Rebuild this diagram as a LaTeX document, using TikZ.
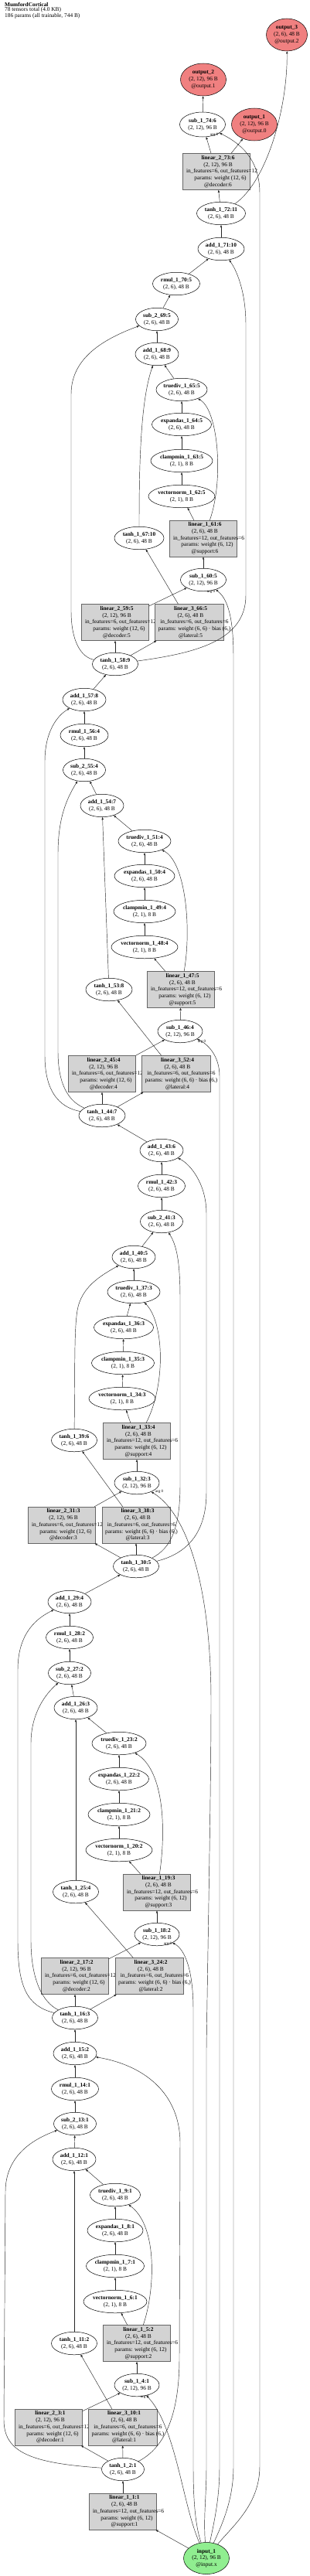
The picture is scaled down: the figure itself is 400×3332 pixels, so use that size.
\documentclass[tikz,border=0pt]{standalone}
\usepackage{fontspec}
\setmainfont{Liberation Serif}
\usetikzlibrary{shapes.geometric,arrows.meta}
\definecolor{outc}{HTML}{F08080}
\definecolor{inc}{HTML}{90EE90}
\definecolor{boxc}{HTML}{D3D3D3}
\newcommand\nf{\fontsize{7.35}{8.7}\selectfont}
\newcommand\shA{(2, 6), 48 B}
\newcommand\shB{(2, 12), 96 B}
\newcommand\shC{(2, 1), 8 B}
\tikzset{
 op/.style={ellipse, draw=black, line width=0.5pt, inner xsep=-8pt, inner ysep=0pt, minimum height=29.5pt, align=center, font=\nf},
 outn/.style={op, fill=outc, minimum height=42pt, minimum width=59pt},
 inn/.style={op, fill=inc, minimum height=41pt, minimum width=59pt},
 linbox/.style={rectangle, draw=black!60, line width=0.5pt, fill=boxc, minimum width=87pt, minimum height=47pt, inner sep=0pt},
 lintxt/.style={inner sep=0pt, align=center, font=\nf},
 edg/.style={draw=black!85, line width=0.45pt, -{Triangle[length=3.2pt,width=2.4pt]}},
 argl/.style={font=\fontsize{5}{5}\selectfont, inner sep=0pt},
}
\newcommand\op[5]{\node[op, minimum width=#3pt] (#1) at (#2) {\textbf{#4}\\#5};}
\newcommand\linA[4]{\node[linbox] (#1) at (#2) {};
 \node[lintxt] (#1t) at ([xshift=2pt]#1.center) {\textbf{#3}\\\shA\\\hspace*{10pt}in\_features=12, out\_features=6\\\hspace*{6pt}params: weight (6, 12)\\@support:#4};}
\newcommand\linB[4]{\node[linbox] (#1) at (#2) {};
 \node[lintxt] (#1t) at ([xshift=2pt]#1.center) {\textbf{#3}\\\shB\\\hspace*{10pt}in\_features=6, out\_features=12\\\hspace*{6pt}params: weight (12, 6)\\@decoder:#4};}
\newcommand\linC[4]{\node[linbox, minimum width=88.5pt] (#1) at (#2) {};
 \node[lintxt] (#1t) at ([xshift=2pt]#1.center) {\textbf{#3}\\\shA\\\hspace*{10pt}in\_features=6, out\_features=6\\\hspace*{10pt}params: weight (6, 6) · bias (6,)\\@lateral:#4};}
\begin{document}
\begin{tikzpicture}[x=1pt,y=-1pt]
\fill[white] (0,0) rectangle (400,3332);
\useasboundingbox (0,0) rectangle (400,3332);
\node[anchor=north west, inner sep=0pt, align=left, font=\fontsize{7.35}{6.4}\selectfont] (title) at (6,3) {\textbf{MumfordCortical}\\78 tensors total (4.0 KB)\\186 params (all trainable, 744 B)};
% nodes
\node[outn, minimum width=53pt] (out3) at (371,45) {\textbf{output\_3}\\\shA\\@output.2};
\node[outn] (out2) at (263,103) {\textbf{output\_2}\\\shB\\@output.1};
\node[outn] (out1) at (329,161) {\textbf{output\_1}\\\shB\\@output.0};
\node[op, minimum width=59pt, minimum height=32pt] (s174) at (262,161) {\textbf{sub\_1\_74:6}\\\shB};
\linB{l273}{280,222}{linear\_2\_73:6}{6}
\op{t172}{286,276}{63}{tanh\_1\_72:11}{\shA}
\op{a171}{286,322}{60}{add\_1\_71:10}{\shA}
\op{r170}{228,367}{61}{rmul\_1\_70:5}{\shA}
\op{s269}{203,413}{55}{sub\_2\_69:5}{\shA}
\op{a168}{203,458}{56}{add\_1\_68:9}{\shA}
\op{td65}{235,504}{66}{truediv\_1\_65:5}{\shA}
\op{ex64}{235,549}{77}{expandas\_1\_64:5}{\shA}
\op{cm63}{235,596}{80}{clampmin\_1\_63:5}{\shC}
\op{vn62}{235,642}{86}{vectornorm\_1\_62:5}{\shC}
\linA{l161}{263,696.5}{linear\_1\_61:6}{6}
\op{t167}{180,696}{64}{tanh\_1\_67:10}{\shA}
\op{s160}{263,750}{59}{sub\_1\_60:5}{\shB}
\linB{l259}{149,805}{linear\_2\_59:5}{5}
\linC{l366}{244.5,805}{linear\_3\_66:5}{5}
\op{t158}{149,859}{59}{tanh\_1\_58:9}{\shA}
\op{a157}{109,905}{56}{add\_1\_57:8}{\shA}
\op{r156}{109,951}{62}{rmul\_1\_56:4}{\shA}
\op{s255}{109,996}{55}{sub\_2\_55:4}{\shA}
\op{a154}{132,1042}{56}{add\_1\_54:7}{\shA}
\op{td51}{187,1088}{68}{truediv\_1\_51:4}{\shA}
\op{ex50}{187,1133}{78}{expandas\_1\_50:4}{\shA}
\op{cm49}{187,1179}{80}{clampmin\_1\_49:4}{\shC}
\op{vn48}{187,1225}{86}{vectornorm\_1\_48:4}{\shC}
\linA{l147}{234,1280}{linear\_1\_47:5}{5}
\op{t153}{141,1280}{60}{tanh\_1\_53:8}{\shA}
\op{s146}{233,1334}{58}{sub\_1\_46:4}{\shB}
\linB{l245}{132,1389}{linear\_2\_45:4}{4}
\linC{l352}{227.5,1389}{linear\_3\_52:4}{4}
\op{t144}{132,1443}{60}{tanh\_1\_44:7}{\shA}
\op{a143}{209,1488}{56}{add\_1\_43:6}{\shA}
\op{r142}{209,1534}{61}{rmul\_1\_42:3}{\shA}
\op{s241}{209,1580}{55}{sub\_2\_41:3}{\shA}
\op{a140}{173,1626}{56}{add\_1\_40:5}{\shA}
\op{td37}{173,1671}{68}{truediv\_1\_37:3}{\shA}
\op{ex36}{160,1717}{77}{expandas\_1\_36:3}{\shA}
\op{cm35}{159,1763}{81}{clampmin\_1\_35:3}{\shC}
\op{vn34}{158,1809}{86}{vectornorm\_1\_34:3}{\shC}
\linA{l133}{177,1864}{linear\_1\_33:4}{4}
\op{t139}{96,1863}{59}{tanh\_1\_39:6}{\shA}
\op{s132}{177,1918}{58}{sub\_1\_32:3}{\shB}
\linB{l231}{80,1972.5}{linear\_2\_31:3}{3}
\linC{l338}{176,1972.5}{linear\_3\_38:3}{3}
\op{t130}{176,2026}{59}{tanh\_1\_30:5}{\shA}
\op{a129}{90,2072}{56}{add\_1\_29:4}{\shA}
\op{r128}{90,2118}{61}{rmul\_1\_28:2}{\shA}
\op{s227}{90,2164}{55}{sub\_2\_27:2}{\shA}
\op{a126}{98,2209}{56}{add\_1\_26:3}{\shA}
\op{td23}{154,2255}{70}{truediv\_1\_23:2}{\shA}
\op{ex22}{154,2301}{77}{expandas\_1\_22:2}{\shA}
\op{cm21}{154,2347}{80}{clampmin\_1\_21:2}{\shC}
\op{vn20}{154,2393}{86}{vectornorm\_1\_20:2}{\shC}
\linA{l119}{203,2447.5}{linear\_1\_19:3}{3}
\op{t125}{98,2447}{59}{tanh\_1\_25:4}{\shA}
\op{s118}{203,2502}{58}{sub\_1\_18:2}{\shB}
\linB{l217}{97,2556}{linear\_2\_17:2}{2}
\linC{l324}{193,2556}{linear\_3\_24:2}{2}
\op{t116}{97,2610}{59}{tanh\_1\_16:3}{\shA}
\op{a115}{97,2656}{56}{add\_1\_15:2}{\shA}
\op{r114}{97,2702}{61}{rmul\_1\_14:1}{\shA}
\op{s213}{97,2747}{55}{sub\_2\_13:1}{\shA}
\op{a112}{96,2793}{56}{add\_1\_12:1}{\shA}
\op{td9}{149,2839}{65}{truediv\_1\_9:1}{\shA}
\op{ex8}{149,2885}{72}{expandas\_1\_8:1}{\shA}
\op{cm7}{149,2931}{75}{clampmin\_1\_7:1}{\shC}
\op{vn6}{149,2977}{82}{vectornorm\_1\_6:1}{\shC}
\linA{l15}{177,3031}{linear\_1\_5:2}{2}
\op{t111}{96,3031}{59}{tanh\_1\_11:2}{\shA}
\op{s14}{177,3085}{58}{sub\_1\_4:1}{\shB}
\linB{l23}{63,3139.5}{linear\_2\_3:1}{1}
\linC{l310}{158.5,3139.5}{linear\_3\_10:1}{1}
\op{t12}{159,3194}{55}{tanh\_1\_2:1}{\shA}
\linA{l11}{159,3248.5}{linear\_1\_1:1}{1}
\node[inn] (in1) at (267,3309) {\textbf{input\_1}\\\shB\\@input.x};
% arg labels
\node[argl] (g174) at (277,174) {arg 0};
\node[argl] (g160) at (273,765) {arg 0};
\node[argl] (g146) at (261,1347) {arg 0};
\node[argl] (g132) at (206,1929) {arg 0};
\node[argl] (g118) at (217,2514) {arg 0};
\node[argl] (g14) at (187,3100) {arg 0};
% ---- edges: iteration 1
\draw[edg] (in1) -- (l11);
\draw[edg] (l11) -- (t12);
\draw[edg] (t12) -- (l23);
\draw[edg] (t12) -- (l310);
\draw[edg] (t12) .. controls (40,3186) and (5,3172) .. (5,3130) -- (7,2835) .. controls (7,2790) and (40,2768) .. (s213);
\draw[edg] (t12) .. controls (215,3165) and (232,3120) .. (232,3050) -- (233,2770) .. controls (232,2710) and (190,2672) .. (a115);
\draw[edg] (l23) -- (s14);
\draw[edg] (in1) .. controls (236,3240) and (228,3140) .. (s14);
\draw[edg] (s14) -- (l15);
\draw[edg] (l15) -- (vn6);
\draw[edg] (l15) .. controls (200,2965) and (205,2880) .. (td9);
\draw[edg] (vn6) -- (cm7);
\draw[edg] (cm7) -- (ex8);
\draw[edg] (ex8) -- (td9);
\draw[edg] (l310) -- (t111);
\draw[edg] (t111) -- (a112);
\draw[edg] (td9) -- (a112);
\draw[edg] (a112) -- (s213);
\draw[edg] (s213) -- (r114);
\draw[edg] (r114) -- (a115);
\draw[edg] (a115) -- (t116);
% ---- iteration 2
\draw[edg] (t116) -- (l217);
\draw[edg] (t116) -- (l324);
\draw[edg] (t116) .. controls (55,2590) and (40,2560) .. (40,2510) -- (40,2255) .. controls (40,2215) and (60,2190) .. (s227);
\draw[edg] (t116) .. controls (35,2595) and (23,2570) .. (23,2510) -- (23,2160) .. controls (23,2110) and (50,2092) .. (a129);
\draw[edg] (l217) -- (s118);
\draw[edg] (in1) .. controls (252,3265) and (250,3230) .. (250,3190) -- (250,2600) .. controls (250,2550) and (240,2522) .. (s118);
\draw[edg] (s118) -- (l119);
\draw[edg] (l119) -- (vn20);
\draw[edg] (l119) .. controls (215,2365) and (212,2290) .. (td23);
\draw[edg] (vn20) -- (cm21);
\draw[edg] (cm21) -- (ex22);
\draw[edg] (ex22) -- (td23);
\draw[edg] (l324) -- (t125);
\draw[edg] (t125) -- (a126);
\draw[edg] (td23) -- (a126);
\draw[edg] (a126) -- (s227);
\draw[edg] (s227) -- (r128);
\draw[edg] (r128) -- (a129);
\draw[edg] (a129) -- (t130);
% ---- iteration 3
\draw[edg] (t130) -- (l231);
\draw[edg] (t130) -- (l338);
\draw[edg] (t130) .. controls (222,2002) and (233,1975) .. (233,1920) -- (233,1680) .. controls (233,1630) and (228,1610) .. (s241);
\draw[edg] (t130) .. controls (240,2010) and (267,1985) .. (267,1930) -- (267,1570) .. controls (267,1530) and (245,1505) .. (a143);
\draw[edg] (l231) -- (s132);
\draw[edg] (in1) .. controls (263,3255) and (267,3230) .. (267,3190) -- (267,2650) .. controls (270,2450) and (273,2300) .. (273,2200) .. controls (273,2060) and (245,1960) .. (s132);
\draw[edg] (s132) -- (l133);
\draw[edg] (l133) -- (vn34);
\draw[edg] (l133) .. controls (215,1790) and (212,1710) .. (td37);
\draw[edg] (vn34) -- (cm35);
\draw[edg] (cm35) -- (ex36);
\draw[edg] (ex36) -- (td37);
\draw[edg] (l338) -- (t139);
\draw[edg] (t139) .. controls (97,1760) and (96,1720) .. (100,1695) .. controls (105,1665) and (130,1650) .. (a140);
\draw[edg] (td37) -- (a140);
\draw[edg] (a140) -- (s241);
\draw[edg] (s241) -- (r142);
\draw[edg] (r142) -- (a143);
\draw[edg] (a143) -- (t144);
% ---- iteration 4
\draw[edg] (t144) -- (l245);
\draw[edg] (t144) -- (l352);
\draw[edg] (t144) .. controls (90,1425) and (75,1405) .. (75,1360) -- (75,1105) .. controls (75,1060) and (85,1035) .. (s255);
\draw[edg] (t144) .. controls (75,1432) and (58,1410) .. (58,1365) -- (58,985) .. controls (58,945) and (75,925) .. (a157);
\draw[edg] (l245) -- (s146);
\draw[edg] (in1) .. controls (278,3258) and (284,3230) .. (284,3190) -- (284,1392) .. controls (284,1365) and (268,1350) .. (s146);
\draw[edg] (s146) -- (l147);
\draw[edg] (l147) -- (vn48);
\draw[edg] (l147) .. controls (248,1200) and (240,1115) .. (td51);
\draw[edg] (vn48) -- (cm49);
\draw[edg] (cm49) -- (ex50);
\draw[edg] (ex50) -- (td51);
\draw[edg] (l352) -- (t153);
\draw[edg] (t153) -- (a154);
\draw[edg] (td51) -- (a154);
\draw[edg] (a154) -- (s255);
\draw[edg] (s255) -- (r156);
\draw[edg] (r156) -- (a157);
\draw[edg] (a157) -- (t158);
% ---- iteration 5
\draw[edg] (t158) -- (l259);
\draw[edg] (t158) -- (l366);
\draw[edg] (t158) .. controls (105,850) and (92,830) .. (92,790) -- (92,510) .. controls (92,465) and (130,440) .. (s269);
\draw[edg] (t158) .. controls (250,845) and (318,830) .. (318,770) -- (318,420) .. controls (318,375) and (305,348) .. (a171);
\draw[edg] (l259) -- (s160);
\draw[edg] (in1) .. controls (290,3260) and (302,3230) .. (302,3190) -- (302,850) .. controls (302,800) and (295,775) .. (s160);
\draw[edg] (l366) -- (t167);
\draw[edg] (s160) -- (l161);
\draw[edg] (l161) -- (vn62);
\draw[edg] (l161) .. controls (290,620) and (282,530) .. (td65);
\draw[edg] (vn62) -- (cm63);
\draw[edg] (cm63) -- (ex64);
\draw[edg] (ex64) -- (td65);
\draw[edg] (t167) .. controls (180,610) and (181,520) .. (a168);
\draw[edg] (td65) -- (a168);
\draw[edg] (a168) -- (s269);
\draw[edg] (s269) -- (r170);
\draw[edg] (r170) -- (a171);
\draw[edg] (a171) -- (t172);
% ---- outputs
\draw[edg] (t172) -- (l273);
\draw[edg] (t172) .. controls (345,235) and (372,140) .. (out3);
\draw[edg] (l273) -- (s174);
\draw[edg] (l273) -- (out1);
\draw[edg] (in1) .. controls (300,3268) and (336,3240) .. (336,3190) -- (336,250) .. controls (336,205) and (310,185) .. (s174);
\draw[edg] (s174) -- (out2);
\end{tikzpicture}
\end{document}
